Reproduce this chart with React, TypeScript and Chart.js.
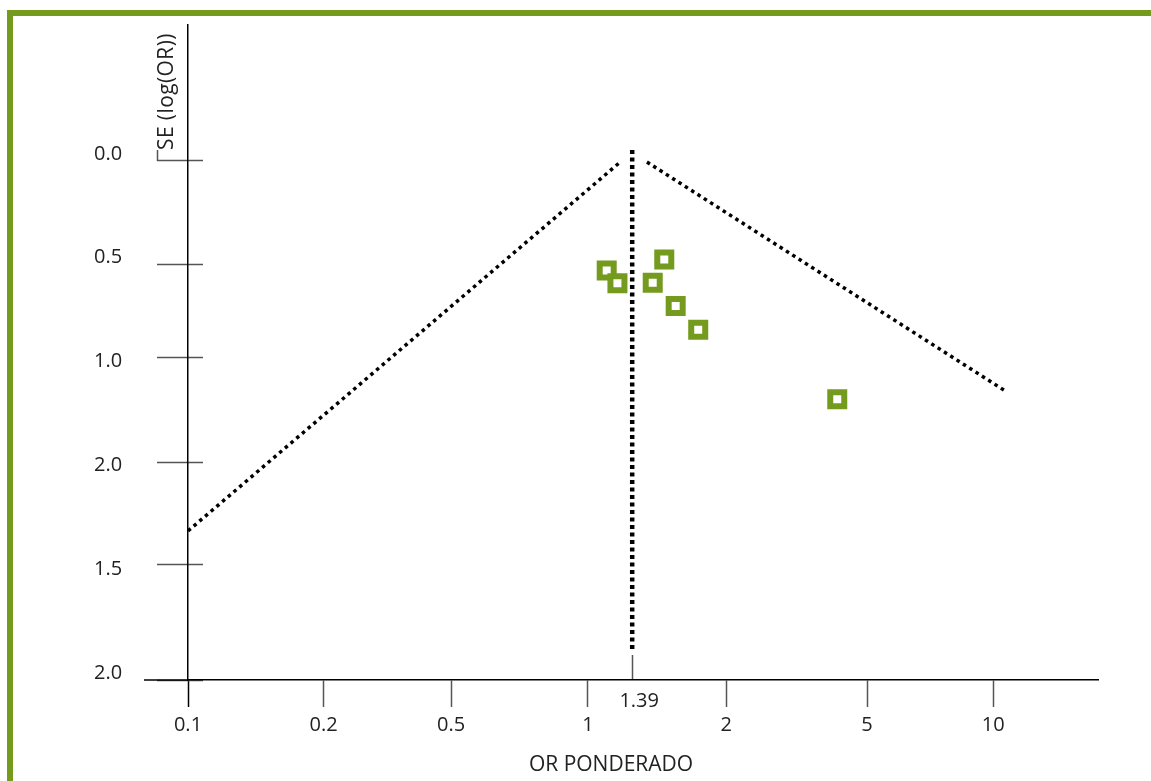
import { useEffect, useRef } from "react";
import { Chart, registerables } from "chart.js";

Chart.register(...registerables);

// ---- data (axis units: x = position along the OR axis, 0.1 -> 0 ... 10 -> 6; y = SE) ----
const xTickLabels = ["0.1", "0.2", "0.5", "1", "2", "5", "10"];
const xTickValues = [0, 1.01, 1.96, 2.98, 4.01, 5.06, 6];
const pooledLabel = "1.39";
const pooledX = 3.31;

// y labels sit at even steps; the hand-drawn tick marks are slightly uneven
const yTickLabels = ["0.0", "0.5", "1.0", "2.0", "1.5", "2.0"];
const yLabelValues = [0, 0.5, 1.0, 1.5, 2.0, 2.5];
const yTickMarkValues = [0, 0.5, 0.945, 1.45, 1.945, 2.5];

const studyX = [3.12, 3.2, 3.463, 3.549, 3.634, 3.802, 4.838];
const studySE = [0.528, 0.589, 0.586, 0.475, 0.698, 0.813, 1.148];

const funnelLeftX = [0, 3.212];
const funnelLeftSE = [1.782, 0.01];
const funnelRightX = [3.42, 6.103];
const funnelRightSE = [0.005, 1.113];
const pooledLineSE = [-0.053, 2.356];

const xTitle = "OR PONDERADO";
const yTitle = "SE (log(OR))";

// ---- styles ----
const X_MIN = 0;
const X_MAX = 6.781;
const Y_MIN = -0.655;
const Y_MAX = 2.5;
const GREEN = "rgb(116,154,30)";
const TEXT = "#222";
const TICK = "#555";
const FONT = "'Open Sans', sans-serif";

const extrasPlugin = {
  id: "extras",
  afterDraw(chart: any) {
    const { ctx, scales, chartArea } = chart;
    const xs = scales.x;
    const ys = scales.y;
    const axisX = xs.getPixelForValue(0);
    const zeroY = ys.getPixelForValue(0);
    ctx.save();
    // x axis line continues to the left of the y axis
    ctx.strokeStyle = "#000";
    ctx.lineWidth = 1.5;
    ctx.beginPath();
    ctx.moveTo(axisX - 44, chartArea.bottom);
    ctx.lineTo(axisX, chartArea.bottom);
    ctx.stroke();
    // small bracket line under the y title
    ctx.strokeStyle = TICK;
    ctx.beginPath();
    ctx.moveTo(axisX - 30.5, zeroY - 11);
    ctx.lineTo(axisX - 30.5, zeroY);
    ctx.stroke();
    // y title
    ctx.fillStyle = TEXT;
    ctx.font = `21px ${FONT}`;
    try {
      (ctx as any).letterSpacing = "0.4px";
    } catch (e) {}
    ctx.textAlign = "left";
    ctx.textBaseline = "alphabetic";
    ctx.translate(axisX - 15, zeroY - 11);
    ctx.rotate(-Math.PI / 2);
    ctx.fillText(yTitle, 0, 0);
    ctx.restore();
    // x title
    ctx.save();
    ctx.fillStyle = TEXT;
    ctx.font = `21px ${FONT}`;
    ctx.textAlign = "center";
    ctx.textBaseline = "alphabetic";
    ctx.fillText(xTitle, axisX + 423, chartArea.bottom + 91);
    ctx.restore();
  },
};

export default function App() {
  const ref = useRef<HTMLCanvasElement>(null);

  useEffect(() => {
    const toPts = (xs: number[], ys: number[]) => xs.map((x, i) => ({ x, y: ys[i] }));
    const chart = new Chart(ref.current as HTMLCanvasElement, {
      type: "scatter",
      data: {
        datasets: [
          {
            label: "Estudios",
            data: toPts(studyX, studySE),
            pointStyle: "rect",
            pointRadius: 9.9,
            pointHoverRadius: 9.9,
            borderWidth: 6,
            borderColor: GREEN,
            backgroundColor: "#fff",
            showLine: false,
          } as any,
          {
            label: "OR ponderado",
            data: toPts([pooledX, pooledX], pooledLineSE),
            showLine: true,
            pointRadius: 0,
            borderColor: "#000",
            borderWidth: 4.5,
            borderDash: [4, 3.5],
            clip: false,
          } as any,
          {
            label: "Límite izq.",
            data: toPts(funnelLeftX, funnelLeftSE),
            showLine: true,
            pointRadius: 0,
            borderColor: "#000",
            borderWidth: 3.5,
            borderDash: [3.5, 4],
            clip: false,
          } as any,
          {
            label: "Límite der.",
            data: toPts(funnelRightX, funnelRightSE),
            showLine: true,
            pointRadius: 0,
            borderColor: "#000",
            borderWidth: 3.5,
            borderDash: [3.5, 4],
            clip: false,
          } as any,
        ],
      },
      options: {
        animation: false,
        responsive: false,
        maintainAspectRatio: false,
        events: [],
        layout: { padding: { left: 94, right: 53, top: 25, bottom: 0 } },
        plugins: { legend: { display: false }, tooltip: { enabled: false } },
        scales: {
          x: {
            type: "linear",
            position: "bottom",
            min: X_MIN,
            max: X_MAX,
            afterBuildTicks: (s: any) => {
              s.ticks = xTickValues.map((v) => ({ value: v }));
            },
            afterFit: (s: any) => {
              s.height = 101;
            },
            ticks: {
              autoSkip: false,
              maxRotation: 0,
              padding: 6,
              color: TEXT,
              font: { family: FONT, size: 20, lineHeight: 1.2 },
              callback: (_v: any, i: number) => xTickLabels[i],
            },
            grid: {
              drawOnChartArea: false,
              drawTicks: true,
              tickLength: 27,
              tickWidth: 1.5,
              tickColor: (c: any) => (c.index === 0 ? "#000" : TICK),
            },
            border: { display: true, color: "#000", width: 1.5 },
          },
          xPool: {
            axis: "x",
            type: "linear",
            position: { y: 2.38 },
            min: X_MIN,
            max: X_MAX,
            afterBuildTicks: (s: any) => {
              s.ticks = [{ value: pooledX }];
            },
            ticks: {
              autoSkip: false,
              maxRotation: 0,
              padding: 9,
              labelOffset: 7,
              color: TEXT,
              font: { family: FONT, size: 20, lineHeight: 1.2 },
              callback: () => pooledLabel,
            },
            grid: { drawOnChartArea: false, tickLength: 25, tickWidth: 1.5, tickColor: TICK },
            border: { display: false },
          },
          y: {
            type: "linear",
            position: "left",
            min: Y_MIN,
            max: Y_MAX,
            reverse: true,
            afterBuildTicks: (s: any) => {
              s.ticks = yLabelValues.map((v) => ({ value: v }));
            },
            afterFit: (s: any) => {
              s.width = 94;
            },
            ticks: {
              autoSkip: false,
              padding: 0,
              crossAlign: "far",
              labelOffset: -7,
              color: TEXT,
              font: { family: FONT, size: 20, lineHeight: 1.2 },
              callback: (_v: any, i: number) => yTickLabels[i],
            },
            grid: { drawOnChartArea: false, drawTicks: false },
            border: { display: true, color: "#000", width: 1.5 },
          },
          yMarks: {
            axis: "y",
            type: "linear",
            position: { x: 0.112 },
            min: Y_MIN,
            max: Y_MAX,
            reverse: true,
            afterBuildTicks: (s: any) => {
              s.ticks = yTickMarkValues.map((v) => ({ value: v }));
            },
            ticks: { autoSkip: false, padding: 0, callback: () => "" },
            grid: { drawOnChartArea: false, tickLength: 46, tickWidth: 1.5, tickColor: TICK },
            border: { display: false },
          },
        } as any,
      },
      plugins: [extrasPlugin],
    });
    return () => chart.destroy();
  }, []);

  return (
    <div style={{ position: "fixed", inset: 0, overflow: "hidden", background: "#fff" }}>
      <div
        style={{
          position: "absolute",
          left: 7,
          top: 10,
          width: 2000,
          height: 2000,
          borderTop: `6px solid ${GREEN}`,
          borderLeft: `6px solid ${GREEN}`,
        }}
      />
      <canvas
        ref={ref}
        width={1151}
        height={781}
        style={{ position: "absolute", left: 0, top: 0, width: 1151, height: 781 }}
      />
    </div>
  );
}
